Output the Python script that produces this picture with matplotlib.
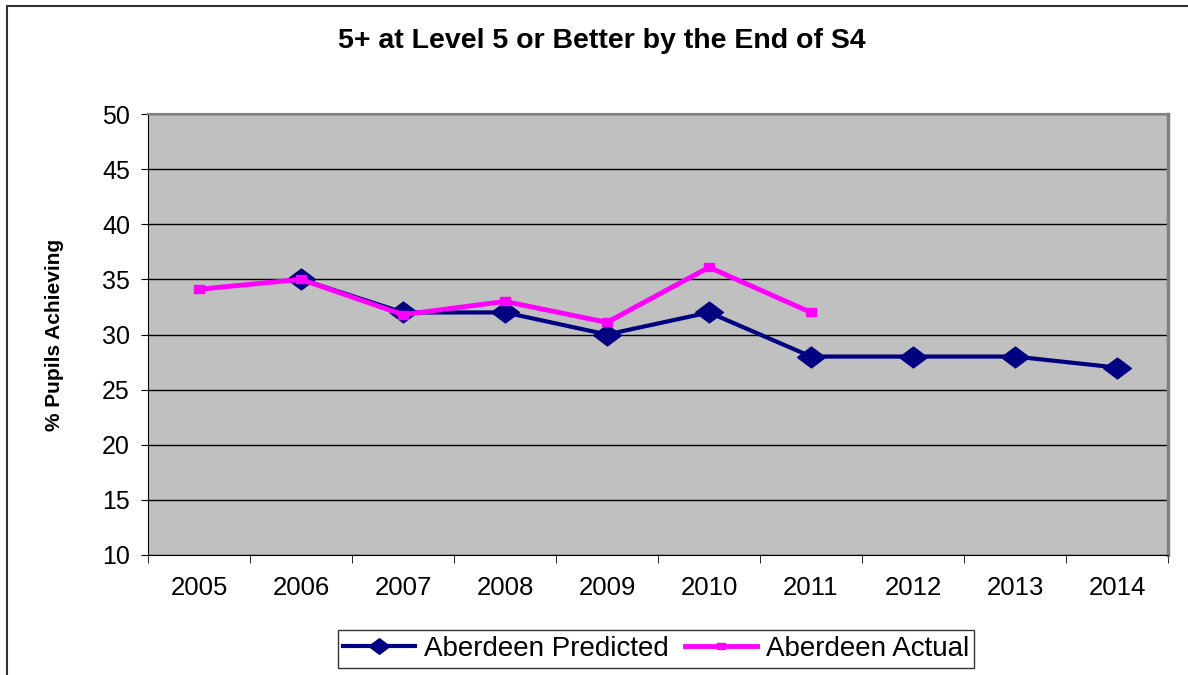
import matplotlib
matplotlib.use("Agg")
import matplotlib.pyplot as plt
from matplotlib.patches import Rectangle
import numpy as np

years = ["2005", "2006", "2007", "2008", "2009", "2010", "2011", "2012", "2013", "2014"]
predicted = [np.nan, 35, 32, 32, 30, 32, 28, 28, 28, 27]
actual = [34.1, 35, 31.8, 33, 31.1, 36.1, 32, np.nan, np.nan, np.nan]

plt.rcParams['font.family'] = ['Liberation Sans', 'DejaVu Sans']

fig = plt.figure(figsize=(11.88, 6.75), dpi=100)
ax = fig.add_axes([148/1188, 1-555/675, (1168-148)/1188, (555-114)/675])
ax.set_facecolor("#C0C0C0")

wide_diamond = [(-1, 0), (0, 0.75), (1, 0), (0, -0.75), (-1, 0)]
wide_square = [(-1, -0.8), (1, -0.8), (1, 0.8), (-1, 0.8), (-1, -0.8)]

x = np.arange(len(years))
ax.plot(x, predicted, color="#000080", lw=3, marker=wide_diamond, ms=20,
        label="Aberdeen Predicted", zorder=3)
ax.plot(x, actual, color="#FF00FF", lw=3.5, marker=wide_square, ms=7,
        label="Aberdeen Actual", zorder=4)

ax.set_xlim(-0.5, len(years) - 0.5)
ax.set_ylim(10, 50)
ax.set_yticks(np.arange(10, 51, 5))
ax.tick_params(axis='y', labelsize=18, length=5, direction='out', pad=8)
ax.set_xticks(x)
ax.set_xticklabels(years, fontsize=18.5)
ax.tick_params(axis='x', length=0, pad=15)
ax.set_xticks(np.arange(-0.5, len(years), 1), minor=True)
ax.tick_params(axis='x', which='minor', length=6, direction='out')
ax.yaxis.grid(True, color="black", lw=1)
ax.set_axisbelow(True)
ax.spines['top'].set_color("#808080")
ax.spines['top'].set_linewidth(1.5)
ax.spines['right'].set_color("#808080")
ax.spines['right'].set_linewidth(2.5)
ax.spines['left'].set_color("black")
ax.spines['bottom'].set_color("black")

ax.set_ylabel("% Pupils Achieving", fontsize=15, fontweight='bold')
ax.yaxis.set_label_coords((64-148)/1020, 0.5)
fig.text(602/1188, 1-41/675, "5+ at Level 5 or Better by the End of S4", ha='center', va='center',
         fontsize=20.5, fontweight='bold')

leg = fig.legend(loc='center', bbox_to_anchor=(656/1188, 1-649/675), ncol=2, fontsize=20,
                 frameon=True, fancybox=False, edgecolor='black', handlelength=2.6,
                 columnspacing=0.6, handletextpad=0.3, borderpad=0.2, markerscale=0.75)
leg.get_frame().set_linewidth(1)

fig.patches.append(Rectangle((7/1188, -0.01), 1.2, 1-6/675 + 0.01, transform=fig.transFigure,
                             fill=False, edgecolor='#333333', lw=1.5))

fig.savefig("out.png", dpi=100)
